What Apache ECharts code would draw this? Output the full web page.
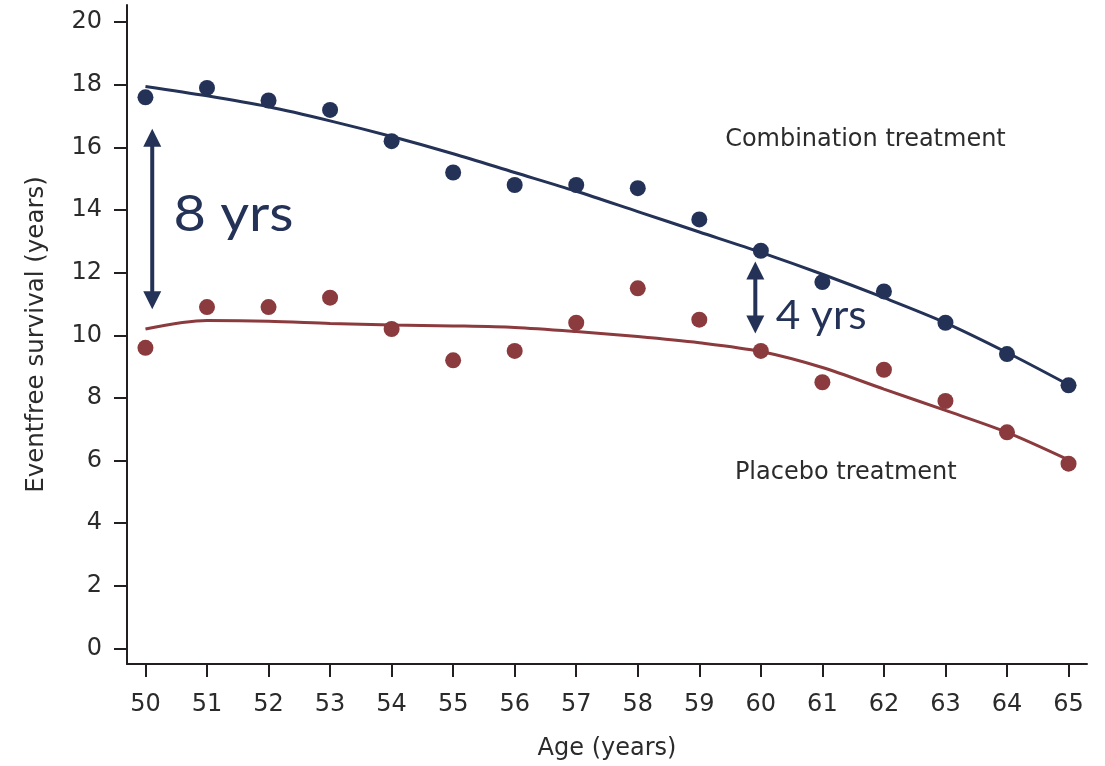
<!DOCTYPE html>
<html><head><meta charset="utf-8">
<script src="https://cdn.jsdelivr.net/npm/echarts@6/dist/echarts.min.js"></script>
<style>html,body{margin:0;padding:0;background:#fff}#c{width:1105px;height:766px}</style>
</head><body><div id="c"></div>
<script>
const ages = [50,51,52,53,54,55,56,57,58,59,60,61,62,63,64,65];
const yTicks = [0,2,4,6,8,10,12,14,16,18,20];
const combinationObs = [17.6,17.9,17.5,17.2,16.2,15.2,14.8,14.8,14.7,13.7,12.7,11.7,11.4,10.4,9.4,8.4];
const placeboObs = [9.6,10.9,10.9,11.2,10.2,9.2,9.5,10.4,11.5,10.5,9.5,8.5,8.9,7.9,6.9,5.9];
const combinationFit = [17.95,17.65,17.3,16.85,16.35,15.8,15.2,14.6,13.95,13.3,12.65,11.95,11.2,10.4,9.45,8.42];
const placeboFit = [10.2,10.47,10.45,10.38,10.33,10.3,10.25,10.12,9.96,9.76,9.48,8.97,8.28,7.6,6.9,6.02];
const arrows = [[50.11,16.6,10.83],[59.91,12.36,10.06]];
const arrowTexts = [[51.43,13.85,'8 yrs',50,1.12],[60.98,10.6,'4 yrs',40,1.06]];
const seriesLabels = [[61.7,16.26,'Combination treatment'],[61.38,5.62,'Placebo treatment']];

const NAVY = '#243257';
const RED = '#8b3a3d';
const INK = '#231f20';
const TXT = '#2b2b2b';
const FONT = 'DejaVu Sans';
const pair = a => ages.map((x,i)=>[x,a[i]]);

const chart = echarts.init(document.getElementById('c'));
chart.setOption({
  animation:false,
  grid:{left:127,right:18,top:5,bottom:102},
  xAxis:{type:'value',min:49.7,max:65.3,
    name:'Age (years)',nameLocation:'middle',nameGap:73,
    nameTextStyle:{fontFamily:FONT,fontSize:24,color:TXT},
    axisLine:{show:true,onZero:false,lineStyle:{color:INK,width:2}},
    axisTick:{show:true,length:13,customValues:ages,lineStyle:{color:INK,width:2}},
    axisLabel:{customValues:ages,margin:29,fontFamily:FONT,fontSize:24,color:TXT},
    splitLine:{show:false}},
  yAxis:{type:'value',min:-0.5,max:20.55,
    name:'Eventfree survival (years)',nameLocation:'middle',nameGap:78,
    nameTextStyle:{fontFamily:FONT,fontSize:24.5,color:TXT},
    axisLine:{show:true,onZero:false,lineStyle:{color:INK,width:2}},
    axisTick:{show:true,length:13,customValues:yTicks,lineStyle:{color:INK,width:2}},
    axisLabel:{customValues:yTicks,margin:25,fontFamily:FONT,fontSize:24,color:TXT},
    splitLine:{show:false}},
  series:[
    {type:'line',data:pair(combinationFit),smooth:0.3,symbol:'none',lineStyle:{color:NAVY,width:3}},
    {type:'line',data:pair(placeboFit),smooth:0.3,symbol:'none',lineStyle:{color:RED,width:3}},
    {type:'scatter',data:pair(combinationObs),symbolSize:16,itemStyle:{color:NAVY,opacity:1}},
    {type:'scatter',data:pair(placeboObs),symbolSize:16,itemStyle:{color:RED,opacity:1}},
    {type:'custom',data:arrows,renderItem:(params,api)=>{
      const top = api.coord([api.value(0),api.value(1)]);
      const bot = api.coord([api.value(0),api.value(2)]);
      const x = top[0], hw=9, hl=18;
      return {type:'group',children:[
        {type:'rect',shape:{x:x-2,y:top[1]+hl-1,width:4,height:bot[1]-top[1]-2*hl+2},style:{fill:NAVY}},
        {type:'polygon',shape:{points:[[x,top[1]],[x-hw,top[1]+hl],[x+hw,top[1]+hl]]},style:{fill:NAVY}},
        {type:'polygon',shape:{points:[[x,bot[1]],[x-hw,bot[1]-hl],[x+hw,bot[1]-hl]]},style:{fill:NAVY}}
      ]};
    }},
    {type:'custom',data:arrowTexts,renderItem:(params,api)=>{
      const p = api.coord([api.value(0),api.value(1)]);
      const t = arrowTexts[params.dataIndex];
      return {type:'text',x:p[0],y:p[1],scaleX:t[4],style:{text:t[2],fill:NAVY,
        font:t[3]+'px Lato',align:'center',verticalAlign:'middle'}};
    }},
    {type:'custom',data:seriesLabels,renderItem:(params,api)=>{
      const p = api.coord([api.value(0),api.value(1)]);
      return {type:'text',x:p[0],y:p[1],style:{text:seriesLabels[params.dataIndex][2],fill:TXT,
        font:'24px "'+FONT+'"',align:'center',verticalAlign:'middle'}};
    }}
  ]
});
</script></body></html>
